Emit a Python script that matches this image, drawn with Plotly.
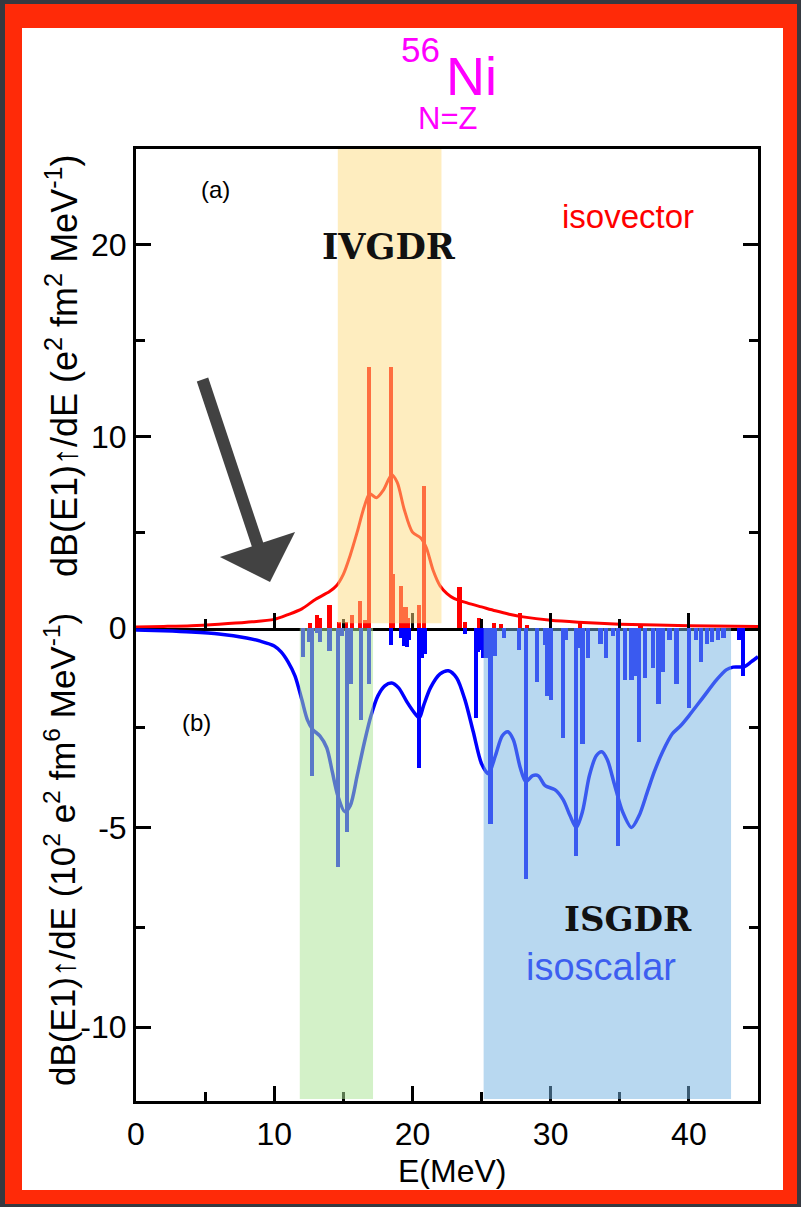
import plotly.graph_objects as go

# ---------------- data ----------------
# (a) isovector: smoothed strength curve and discrete strengths
iv_curve_E = [0, 2, 4, 6, 8, 10, 11, 12, 13, 14, 14.5, 15, 15.5, 16, 16.5, 16.9, 17.4, 17.9,
              18.5, 18.9, 19.4, 20, 20.6, 21, 21.5, 22, 22.5, 23, 24, 25, 26, 27, 28, 30,
              32, 35, 40, 45]
iv_curve_S = [0.05, 0.08, 0.12, 0.2, 0.3, 0.45, 0.7, 1.0, 1.5, 1.9, 2.2, 2.8, 3.8, 5.0, 6.3,
              7.0, 6.8, 7.2, 8.0, 7.6, 6.2, 5.0, 4.7, 4.2, 3.0, 2.2, 1.8, 1.55, 1.3, 1.1,
              0.9, 0.72, 0.58, 0.4, 0.3, 0.2, 0.12, 0.08]
iv_bar_E = [12.6, 13.1, 13.3, 14.0, 14.7, 15.2, 15.6, 16.2, 16.6, 16.85, 18.45, 18.6, 19.2,
            19.5, 19.7, 20.5, 20.85, 23.4, 23.8, 24.8, 25.9, 26.4, 27.8, 28.3, 32.1, 36.5]
iv_bar_S = [0.26, 0.68, 0.5, 1.2, 0.3, 0.3, 0.7, 1.4, 0.4, 13.6, 13.6, 2.8, 2.2,
            1.1, 0.5, 1.2, 7.4, 2.15, 0.3, 0.5, 0.25, 0.2, 0.8, 0.15, 0.25, 0.1]

# (b) isoscalar: smoothed strength curve and discrete strengths (negative axis)
is_curve_E = [0, 2, 4, 6, 8, 9, 10, 10.5, 11, 11.5, 12, 12.4, 12.8, 13.3, 13.8, 14.2, 14.6,
              15.1, 15.5, 16, 16.5, 17, 17.5, 18, 18.5, 19, 19.6, 20.2, 20.5, 20.8, 21.3,
              22, 22.6, 23.2, 23.8, 24.4, 25, 25.5, 26, 26.5, 26.9, 27.3, 27.8, 28.2, 28.7,
              29.1, 29.6, 30.3, 30.9, 31.4, 31.85, 32.3, 32.8, 33.3, 33.7, 34.1, 34.6, 35.2,
              35.85, 36.4, 37, 37.5, 38.1, 38.8, 39.4, 40, 41, 42, 42.7, 43.2, 44, 44.5, 45]
is_curve_S = [-0.05, -0.07, -0.1, -0.15, -0.25, -0.33, -0.45, -0.6, -0.85, -1.2, -1.8, -2.3,
              -2.55, -2.7, -3.0, -3.6, -4.2, -4.6, -4.45, -3.7, -2.9, -2.2, -1.7, -1.45,
              -1.38, -1.5, -1.85, -2.15, -2.25, -1.95, -1.5, -1.15, -1.07, -1.25, -1.8,
              -2.6, -3.4, -3.65, -3.2, -2.7, -2.6, -2.8, -3.5, -3.85, -3.7, -3.7, -3.95,
              -4.05, -4.3, -4.7, -5.0, -4.6, -3.7, -3.2, -3.1, -3.3, -3.9, -4.6, -5.0,
              -4.7, -4.1, -3.6, -3.1, -2.65, -2.45, -2.2, -1.75, -1.3, -1.05, -0.98,
              -0.97, -0.85, -0.72]
is_bar_E = [12.1, 12.55, 12.75, 13.1, 13.3, 14.0, 14.6, 14.9, 15.25, 15.4, 15.55, 16.3, 16.85,
            18.45, 19.2, 19.4, 19.6, 19.75, 20.5, 20.7, 20.9, 23.8, 24.6, 24.75, 24.9, 25.1,
            25.4, 25.65, 26.0, 26.6, 27.7, 28.2, 29.0, 29.6, 29.75, 30.0, 30.9, 31.1, 31.85,
            32.1, 32.3, 32.7, 33.6, 34.0, 34.5, 34.9, 35.4, 35.85, 36.1, 36.4, 36.8, 37.4,
            37.8, 38.1, 38.6, 39.1, 40.0, 40.5, 40.9, 41.3, 41.7, 42.1, 42.5, 43.6, 43.9]
is_bar_S = [-0.73, -0.35, -3.7, -0.12, -0.35, -0.57, -6.0, -0.2, -5.1, -1.4, -1.4, -2.3, -1.4,
            -0.43, -0.25, -0.45, -0.47, -0.3, -3.5, -0.75, -0.65, -0.15, -2.25, -0.6, -0.55,
            -0.75, -0.75, -4.9, -0.7, -0.25, -0.55, -6.3, -1.35, -0.43, -1.7, -1.8, -2.75,
            -0.3, -5.7, -0.5, -2.9, -0.75, -0.4, -0.75, -0.2, -5.45, -1.3, -1.3, -1.2, -2.85,
            -1.25, -1.0, -1.9, -1.1, -0.3, -1.4, -2.0, -0.3, -0.85, -0.4, -0.35, -0.3, -0.25,
            -0.3, -1.2]

# shaded energy windows
ivgdr_band = [14.6, 22.1]
low_band = [11.85, 17.15]
isgdr_band = [25.15, 43.05]

x_ticks = [0, 10, 20, 30, 40]
x_minor = [5, 15, 25, 35]
top_ticks = [0, 10, 20]
bot_ticks = [-10, -5, 0]
bot_ticktext = ["-10", "-5", ""]

# ---------------- layout helpers ----------------
W, H = 801, 1207
L, R, T, B = 136, 758, 149, 1101


def px(x):
    return (x - L) / (R - L)


def py(y):
    return (B - y) / (B - T)


FONT = "Liberation Sans, Arial, Helvetica, sans-serif"
RED = "#ff0000"
BLUE = "#0000ff"

fig = go.Figure()

fig.add_trace(go.Bar(x=iv_bar_E, y=iv_bar_S, width=0.3, marker=dict(color=RED, line=dict(width=0)),
                     xaxis="x", yaxis="y", showlegend=False))
fig.add_trace(go.Scatter(x=iv_curve_E, y=iv_curve_S, mode="lines",
                         line=dict(color=RED, width=3, shape="spline", smoothing=0.8),
                         xaxis="x", yaxis="y", showlegend=False))
fig.add_trace(go.Bar(x=is_bar_E, y=is_bar_S, width=0.3, marker=dict(color=BLUE, line=dict(width=0)),
                     xaxis="x2", yaxis="y2", showlegend=False))
fig.add_trace(go.Scatter(x=is_curve_E, y=is_curve_S, mode="lines",
                         line=dict(color=BLUE, width=3.5, shape="spline", smoothing=0.8),
                         xaxis="x2", yaxis="y2", showlegend=False))

split = py(628)
axis_common = dict(showline=True, linecolor="black", linewidth=3, ticks="inside",
                   tickcolor="black", tickwidth=3, ticklen=15, showgrid=False, zeroline=False,
                   tickfont=dict(family=FONT, size=32, color="black"))

fig.update_layout(
    width=W, height=H,
    margin=dict(l=L, r=W - R, t=T, b=H - B, pad=0),
    paper_bgcolor="#363940",
    plot_bgcolor="white",
    bargap=0,
    barmode="overlay",
    xaxis=dict(domain=[0, 1], range=[0, 45], anchor="y", tickvals=x_ticks, showticklabels=False,
               mirror=True,
               minor=dict(tickvals=x_minor, ticklen=9, tickwidth=2.5, tickcolor="black", ticks="inside"),
               **axis_common),
    yaxis=dict(domain=[split, 1], range=[0, 25], anchor="x", tickvals=top_ticks, mirror="ticks",
               minor=dict(tickvals=[5, 15], ticklen=9, tickwidth=2.5, tickcolor="black", ticks="inside"),
               **axis_common),
    xaxis2=dict(domain=[0, 1], range=[0, 45], anchor="y2", tickvals=x_ticks, ticklabelstandoff=3,
                minor=dict(tickvals=x_minor, ticklen=9, tickwidth=2.5, tickcolor="black", ticks="inside"),
                **axis_common),
    yaxis2=dict(domain=[0, split], range=[-11.85, 0], anchor="x2", tickvals=bot_ticks,
                ticktext=bot_ticktext, mirror="ticks",
                minor=dict(tickvals=[-2.5, -7.5], ticklen=9, tickwidth=2.5, tickcolor="black",
                           ticks="inside"),
                **axis_common),
)

shapes = [
    # red frame and white card
    dict(type="rect", xref="paper", yref="paper", x0=px(5), x1=px(797), y0=py(1204), y1=py(4),
         fillcolor="#ff2a08", line=dict(width=0), layer="below"),
    dict(type="rect", xref="paper", yref="paper", x0=px(22), x1=px(783), y0=py(1190), y1=py(28),
         fillcolor="white", line=dict(width=0), layer="below"),
    # translucent energy windows above the data
    dict(type="rect", xref="x", yref="y", x0=ivgdr_band[0], x1=ivgdr_band[1], y0=0.25, y1=25.1,
         fillcolor="#fddb7f", opacity=0.5, line=dict(width=0), layer="above"),
    dict(type="rect", xref="x2", yref="y2", x0=low_band[0], x1=low_band[1], y0=-11.8, y1=0,
         fillcolor="#abe496", opacity=0.525, line=dict(width=0), layer="above"),
    dict(type="rect", xref="x2", yref="y2", x0=isgdr_band[0], x1=isgdr_band[1], y0=-11.8, y1=0,
         fillcolor="#73b2e1", opacity=0.506, line=dict(width=0), layer="above"),
]
fig.update_layout(shapes=shapes)


def ann(text, x, y, size, color="black", family=FONT, xanchor="center", yanchor="middle",
        angle=0, **kw):
    return dict(text=text, x=px(x), y=py(y), xref="paper", yref="paper", showarrow=False,
                xanchor=xanchor, yanchor=yanchor, textangle=angle,
                font=dict(family=family, size=size, color=color), **kw)


MAG = "#ff00ff"
CHALK = "DejaVu Serif, serif"
annotations = [
    ann("56", 442, 50, 35, MAG, xanchor="right"),
    ann("Ni", 444, 76, 54, MAG, xanchor="left"),
    ann("N=Z", 447, 119, 31, MAG),
    ann("(a)", 215, 190, 24),
    ann("isovector", 628, 217, 33, RED),
    ann("<b>IVGDR</b>", 389, 247, 35, "#111111", family=CHALK),
    ann("(b)", 196, 722, 24),
    ann("<b>ISGDR</b>", 628, 919, 34, "#111111", family=CHALK),
    ann("isoscalar", 601, 967, 38, "#3d5ff0"),
    ann("E(MeV)", 452, 1171, 32),
    ann("dB(E1)↑/dE (e<sup>2</sup> fm<sup>2</sup> MeV<sup>-1</sup>)", 62, 366, 36, angle=-90),
    ann("dB(E1)↑/dE (10<sup>2</sup> e<sup>2</sup> fm<sup>6</sup> MeV<sup>-1</sup>)", 60, 850, 35,
        angle=-90),
    # hand-drawn style arrow pointing at the low-energy tail
    dict(text="", x=px(270), y=py(582), xref="paper", yref="paper", showarrow=True,
         ax=-68, ay=-204, arrowhead=1, arrowsize=1.1, arrowwidth=12, arrowcolor="#424242",
         standoff=0),
]
fig.update_layout(annotations=annotations)

fig.write_html("out.html")
